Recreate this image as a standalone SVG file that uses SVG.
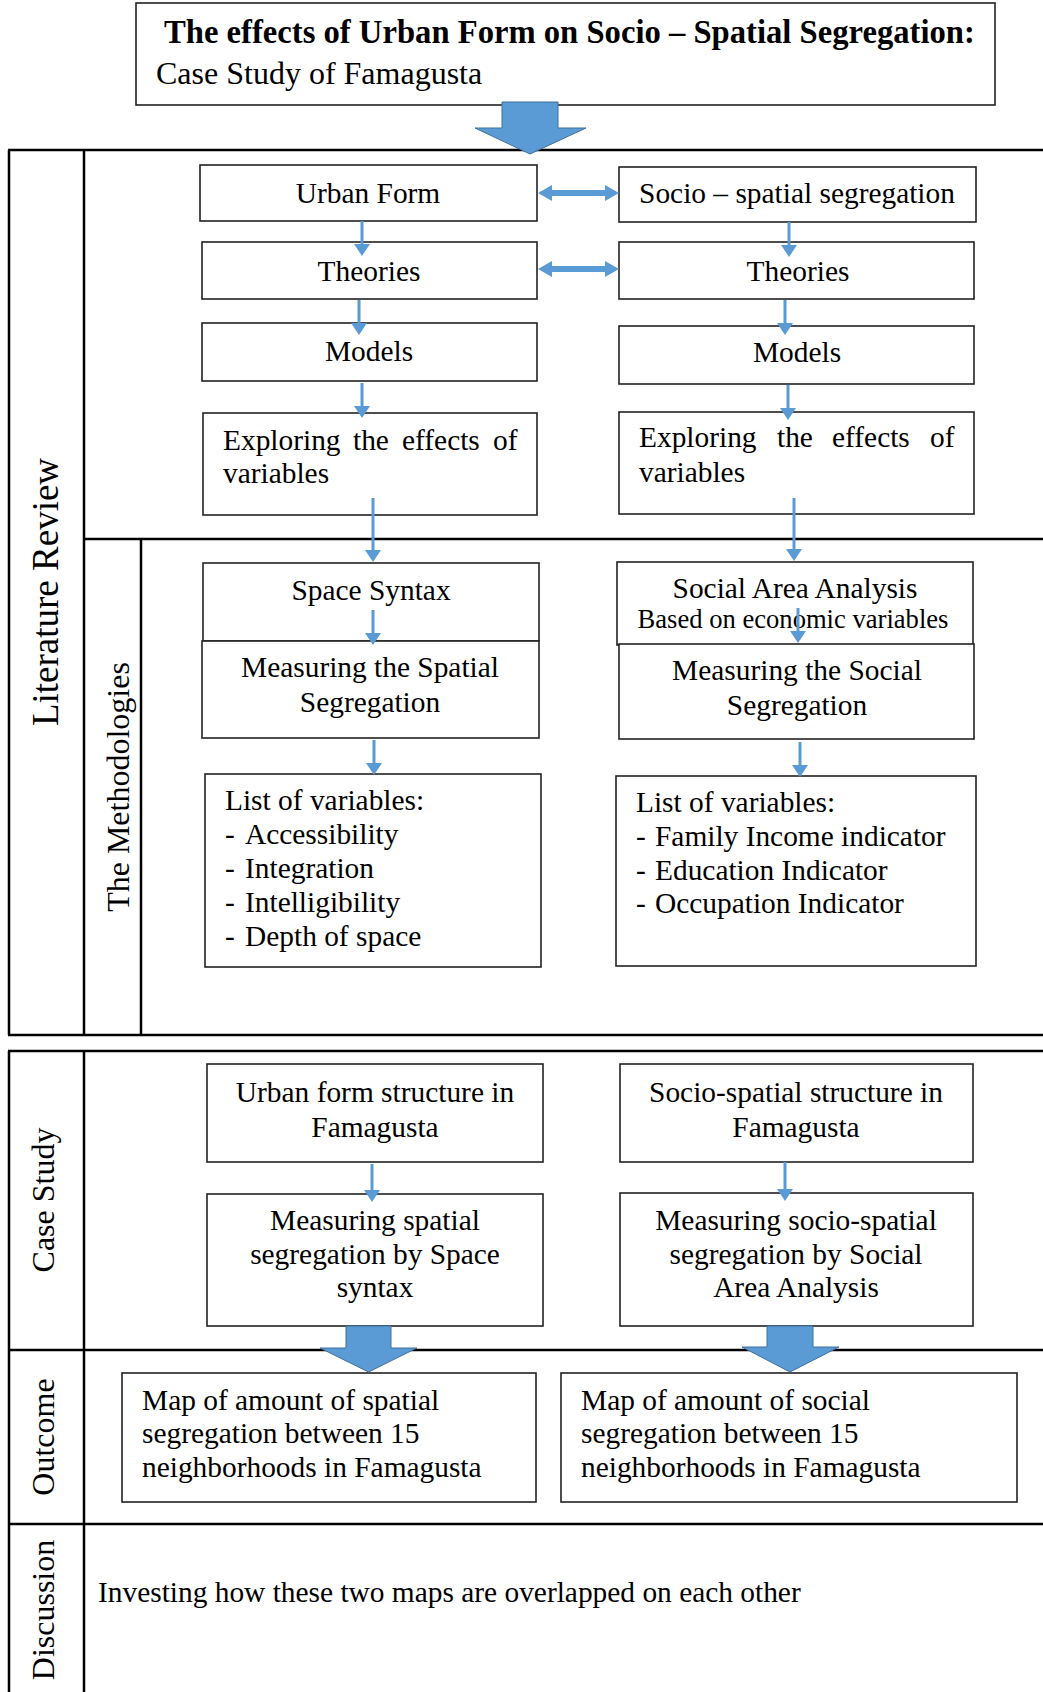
<svg xmlns="http://www.w3.org/2000/svg" width="1043" height="1692" viewBox="0 0 1043 1692">
<defs>
<style>
.t{font-family:"Liberation Serif","Times New Roman",serif;font-size:29.4px;fill:#000}
.c{text-anchor:middle}
.b{fill:#fff;stroke:#222;stroke-width:1.6}
.f{stroke:#000;stroke-width:2.5;fill:none}
.lab{font-family:"Liberation Serif","Times New Roman",serif;font-size:32px;fill:#000;text-anchor:middle}
.cn{stroke:#5b9bd5;stroke-width:3;fill:none;marker-end:url(#ah)}
.big{fill:#5b9bd5;stroke:#41719c;stroke-width:1}
.dbl{fill:#5b9bd5}
</style>
<marker id="ah" markerUnits="userSpaceOnUse" markerWidth="12" markerHeight="16" refX="2" refY="8" orient="auto" viewBox="0 0 12 16"><path d="M0,0 L12,8 L0,16 z" fill="#5b9bd5"/></marker>
</defs>
<rect width="1043" height="1692" fill="#fff"/>

<g id="frame">
<path class="f" d="M8,150 H1043 M9,150 V1035 M84,150 V1035 M84,539 H1043 M141,539 V1035 M8,1035 H1043"/>
<path class="f" d="M8,1051 H1043 M9,1051 V1692 M84,1051 V1692 M8,1350 H1043 M8,1524 H1043"/>
<text class="lab" style="font-size:37px" transform="translate(58,592) rotate(-90)">Literature Review</text>
<text class="lab" transform="translate(129,787) rotate(-90)">The Methodologies</text>
<text class="lab" transform="translate(54,1200) rotate(-90)">Case Study</text>
<text class="lab" transform="translate(54,1437) rotate(-90)">Outcome</text>
<text class="lab" transform="translate(54,1610) rotate(-90)">Discussion</text>
</g>

<g id="title">
<rect class="b" x="136" y="3" width="859" height="102"/>
<text class="t" x="164" y="43" style="font-size:32.65px;font-weight:bold">The effects of Urban Form on Socio – Spatial Segregation:</text>
<text class="t" x="156" y="84" style="font-size:32px">Case Study of Famagusta</text>
</g>

<g id="urban-form"><rect class="b" x="200" y="165" width="337" height="56"/><text class="t c" x="368" y="203">Urban Form</text></g>
<g id="socio-spatial"><rect class="b" x="619" y="167" width="357" height="55"/><text class="t c" x="797" y="203">Socio – spatial segregation</text></g>
<g id="theories-left"><rect class="b" x="202" y="242" width="335" height="57"/><text class="t c" x="369" y="281">Theories</text></g>
<g id="theories-right"><rect class="b" x="619" y="242" width="355" height="57"/><text class="t c" x="798" y="281">Theories</text></g>
<g id="models-left"><rect class="b" x="202" y="323" width="335" height="58"/><text class="t c" x="369" y="361">Models</text></g>
<g id="models-right"><rect class="b" x="619" y="326" width="355" height="58"/><text class="t c" x="797" y="362">Models</text></g>
<g id="exploring-left"><rect class="b" x="203" y="413" width="334" height="102"/>
<text class="t" y="450"><tspan x="223">Exploring</tspan><tspan x="353">the</tspan><tspan x="402">effects</tspan><tspan x="493">of</tspan></text>
<text class="t" x="223" y="483">variables</text></g>
<g id="exploring-right"><rect class="b" x="619" y="412" width="355" height="102"/>
<text class="t" y="447"><tspan x="639">Exploring</tspan><tspan x="777">the</tspan><tspan x="832">effects</tspan><tspan x="930">of</tspan></text>
<text class="t" x="639" y="482">variables</text></g>

<g id="space-syntax"><rect class="b" x="203" y="563" width="336" height="78"/><text class="t c" x="371" y="600">Space Syntax</text></g>
<g id="measuring-spatial"><rect class="b" x="202" y="641" width="337" height="97"/><text class="t c" x="370" y="677">Measuring the Spatial</text><text class="t c" x="370" y="712">Segregation</text></g>
<g id="list-left"><rect class="b" x="205" y="774" width="336" height="193"/>
<text class="t" x="225" y="810">List of variables:</text>
<text class="t" y="844"><tspan x="225">-</tspan><tspan x="245">Accessibility</tspan></text>
<text class="t" y="878"><tspan x="225">-</tspan><tspan x="245">Integration</tspan></text>
<text class="t" y="912"><tspan x="225">-</tspan><tspan x="245">Intelligibility</tspan></text>
<text class="t" y="946"><tspan x="225">-</tspan><tspan x="245">Depth of space</tspan></text></g>
<g id="social-area"><rect class="b" x="617" y="562" width="356" height="83"/><text class="t c" x="795" y="598">Social Area Analysis</text><text class="t c" x="793" y="628" style="font-size:26.6px">Based on economic variables</text></g>
<g id="measuring-social"><rect class="b" x="619" y="644" width="355" height="95"/><text class="t c" x="797" y="680">Measuring the Social</text><text class="t c" x="797" y="715">Segregation</text></g>
<g id="list-right"><rect class="b" x="616" y="776" width="360" height="190"/>
<text class="t" x="636" y="812">List of variables:</text>
<text class="t" y="846"><tspan x="636">-</tspan><tspan x="655">Family Income indicator</tspan></text>
<text class="t" y="880"><tspan x="636">-</tspan><tspan x="655">Education Indicator</tspan></text>
<text class="t" y="913"><tspan x="636">-</tspan><tspan x="655">Occupation Indicator</tspan></text></g>

<g id="urban-structure"><rect class="b" x="207" y="1064" width="336" height="98"/><text class="t c" x="375" y="1102">Urban form structure in</text><text class="t c" x="375" y="1137">Famagusta</text></g>
<g id="measuring-ss"><rect class="b" x="207" y="1194" width="336" height="132"/><text class="t c" x="375" y="1230">Measuring spatial</text><text class="t c" x="375" y="1264">segregation by Space</text><text class="t c" x="375" y="1297">syntax</text></g>
<g id="socio-structure"><rect class="b" x="620" y="1064" width="353" height="98"/><text class="t c" x="796" y="1102">Socio-spatial structure in</text><text class="t c" x="796" y="1137">Famagusta</text></g>
<g id="measuring-saa"><rect class="b" x="620" y="1193" width="353" height="133"/><text class="t c" x="796" y="1230">Measuring socio-spatial</text><text class="t c" x="796" y="1264">segregation by Social</text><text class="t c" x="796" y="1297">Area Analysis</text></g>

<g id="outcome-left"><rect class="b" x="122" y="1373" width="414" height="129"/><text class="t" x="142" y="1410">Map of amount of spatial</text><text class="t" x="142" y="1443">segregation between 15</text><text class="t" x="142" y="1477">neighborhoods in Famagusta</text></g>
<g id="outcome-right"><rect class="b" x="561" y="1373" width="456" height="129"/><text class="t" x="581" y="1410">Map of amount of social</text><text class="t" x="581" y="1443">segregation between 15</text><text class="t" x="581" y="1477">neighborhoods in Famagusta</text></g>

<g id="discussion"><text class="t" x="98" y="1602">Investing how these two maps are overlapped on each other</text></g>

<g id="connectors">
<polygon class="big" points="502,102 558,102 558,128 586,128 530,154 475,128 502,128"/>
<polygon class="big" points="346,1326 391,1326 391,1348 417,1348 368.5,1372 320,1348 346,1348"/>
<polygon class="big" points="767,1326 813,1326 813,1347 839,1347 790,1372 742,1347 767,1347"/>
<polygon class="dbl" points="538,193 552,185 552,190 605,190 605,185 619,193 605,201 605,196 552,196 552,201"/>
<polygon class="dbl" points="538,269 552,261 552,266 605,266 605,261 619,269 605,277 605,272 552,272 552,277"/>
<line class="cn" x1="362" y1="221" x2="362" y2="246"/>
<line class="cn" x1="359" y1="300" x2="359" y2="325"/>
<line class="cn" x1="362" y1="383" x2="362" y2="408"/>
<line class="cn" x1="373" y1="498" x2="373" y2="552"/>
<line class="cn" x1="789" y1="222" x2="789" y2="247"/>
<line class="cn" x1="785" y1="300" x2="785" y2="325"/>
<line class="cn" x1="788" y1="385" x2="788" y2="410"/>
<line class="cn" x1="794" y1="498" x2="794" y2="551"/>
<line class="cn" x1="373" y1="610" x2="373" y2="635"/>
<line class="cn" x1="374" y1="740" x2="374" y2="765"/>
<line class="cn" x1="798" y1="608" x2="798" y2="633"/>
<line class="cn" x1="800" y1="742" x2="800" y2="767"/>
<line class="cn" x1="372" y1="1164" x2="372" y2="1192"/>
<line class="cn" x1="785" y1="1162" x2="785" y2="1191"/>
</g>
</svg>
